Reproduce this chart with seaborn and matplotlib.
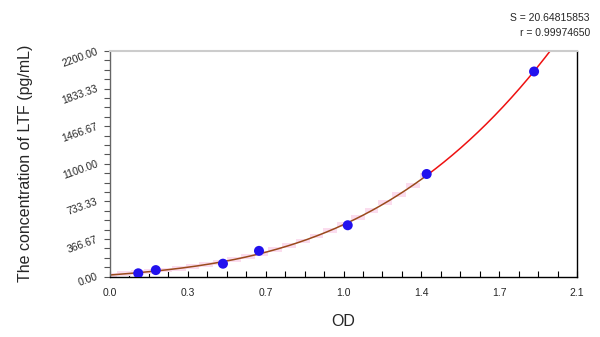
import numpy as np
import pandas as pd
import matplotlib
matplotlib.use("Agg")
import matplotlib.pyplot as plt
from matplotlib.ticker import AutoMinorLocator
import seaborn as sns

# ---- data ----
od_values = [0.127, 0.206, 0.508, 0.670, 1.069, 1.424, 1.907]
conc_values = [31.25, 62.5, 125.0, 250.0, 500.0, 1000.0, 2000.0]
x_ticks = [0.0, 0.35, 0.7, 1.05, 1.4, 1.75, 2.1]
x_tick_labels = ["0.0", "0.3", "0.7", "1.0", "1.4", "1.7", "2.1"]
y_ticks = [0.0, 366.67, 733.33, 1100.0, 1466.67, 1833.33, 2200.0]
y_tick_labels = ["0.00", "366.67", "733.33", "1100.00", "1466.67", "1833.33", "2200.00"]
stat_lines = ["S = 20.64815853", "r = 0.99974650"]
x_label = "OD"
y_label = "The concentration of LTF (pg/mL)"

sns.set_theme(style="white")
plt.rcParams["font.family"] = ["Liberation Sans", "DejaVu Sans"]

df = pd.DataFrame({"OD": od_values, "conc": conc_values})

# cubic fit of the standards
coef = np.polyfit(df["OD"], df["conc"], 3)
xs = np.linspace(0.0, 2.1, 500)
ys = np.polyval(coef, xs)
mask = ys <= 2200
xs, ys = xs[mask], ys[mask]
split = od_values[5]
lower = pd.DataFrame({"OD": xs[xs <= split], "conc": ys[xs <= split]})
upper = pd.DataFrame({"OD": xs[xs >= split], "conc": ys[xs >= split]})

fig = plt.figure(figsize=(6.0, 3.37), dpi=100)
ax = fig.add_axes([110 / 600, 1 - 276.5 / 337, 467 / 600, 225.5 / 337])

# faint blocky band along the lower part of the curve
bx = np.linspace(0.0, split, 24)
by = np.polyval(coef, bx)
ax.fill_between(bx, by - 24, by + 24, step="mid", color="#fbdcee",
                linewidth=0, zorder=1)

sns.lineplot(data=lower, x="OD", y="conc", ax=ax, color="#9a4a1c",
             linewidth=1.1, zorder=2, sort=False)
sns.lineplot(data=upper, x="OD", y="conc", ax=ax, color="#ee1111",
             linewidth=1.1, zorder=2, sort=False)
sns.scatterplot(data=df, x="OD", y="conc", ax=ax, color="#2211ee",
                s=52, edgecolor="none", zorder=3)

ax.set_xlim(0, 2.1)
ax.set_ylim(0, 2200)
ax.set_xticks(x_ticks)
ax.set_xticklabels(x_tick_labels, fontsize=7.5)
ax.set_yticks(y_ticks)
ax.set_yticklabels(y_tick_labels, fontsize=7.5, rotation=20,
                   ha="right", va="center", rotation_mode="anchor")
ax.xaxis.set_minor_locator(AutoMinorLocator(4))
ax.yaxis.set_minor_locator(AutoMinorLocator(4))
ax.tick_params(axis="x", which="both", direction="in", length=4, width=0.8,
               color="black", bottom=True, pad=8)
ax.tick_params(axis="y", which="both", direction="out", length=4, width=0.8,
               color="#555555", left=True, pad=5)

for side, col in [("left", "#666666"), ("bottom", "black"),
                  ("right", "black"), ("top", "#cccccc")]:
    ax.spines[side].set_visible(True)
    ax.spines[side].set_color(col)
    ax.spines[side].set_linewidth(1.0)
ax.spines["top"].set_linewidth(1.5)

ax.set_xlabel(x_label, fontsize=11.5, labelpad=12)
ax.set_ylabel(y_label, fontsize=11.5, labelpad=20)
ax.grid(False)

fig.text(590 / 600, 1 - 18 / 337, stat_lines[0], ha="right", va="center", fontsize=7.5)
fig.text(590 / 600, 1 - 33 / 337, stat_lines[1], ha="right", va="center", fontsize=7.5)

fig.savefig("out.png", dpi=100, facecolor="white")
